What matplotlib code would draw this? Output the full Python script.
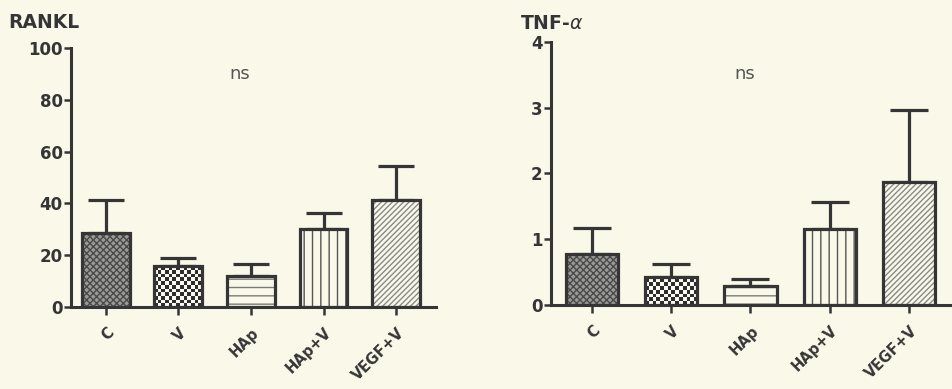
import numpy as np
import matplotlib.pyplot as plt
from matplotlib.colors import ListedColormap
from matplotlib.transforms import ScaledTranslation

groups = ["C", "V", "HAp", "HAp+V", "VEGF+V"]

rankl_mean = [28.6, 15.8, 12.0, 30.0, 41.3]
rankl_err = [12.7, 3.2, 4.6, 6.2, 13.1]

tnf_mean = [0.78, 0.42, 0.29, 1.16, 1.87]
tnf_err = [0.39, 0.20, 0.10, 0.41, 1.10]

BG = "#faf8e8"
INK = "#353535"

plt.rcParams["font.family"] = ["DejaVu Sans"]
plt.rcParams["hatch.linewidth"] = 1.0


def checker_fill(ax, x0, w, h, cell_px=3.7):
    # checkerboard pattern clipped to the bar rectangle
    fig = ax.figure
    fig.canvas.draw()
    p0 = ax.transData.transform((0, 0))
    p1 = ax.transData.transform((1, 1))
    px_x = abs(p1[0] - p0[0])
    px_y = abs(p1[1] - p0[1])
    ncol = max(2, int(round(w * px_x / cell_px)))
    cw = w / ncol
    ch = cw * px_x / px_y
    nrow = int(np.ceil(h / ch))
    board = (np.add.outer(np.arange(nrow), np.arange(ncol)) % 2).astype(float)
    cmap = ListedColormap(["#2e2e2e", "#fbfaf0"])
    im = ax.imshow(board, cmap=cmap, vmin=0, vmax=1, origin="lower",
                   extent=(x0, x0 + w, 0, nrow * ch), aspect="auto",
                   interpolation="nearest", zorder=2)
    rect = plt.Rectangle((x0, 0), w, h, transform=ax.transData)
    im.set_clip_path(rect)


def panel(ax, means, errs, ymax, yticks, title, title_xy, ns_xy, xlim, capsize):
    ax.set_facecolor(BG)
    x = np.arange(len(groups))
    width = 0.66
    ax.set_xlim(*xlim)
    ax.set_ylim(0, ymax)

    styles = [
        dict(facecolor="#9b9b96", hatch="xxxxx", hc="#4a4a4a"),
        None,
        dict(facecolor=BG, hatch="--", hc="#7a7a7a"),
        dict(facecolor=BG, hatch="||", hc="#555555"),
        dict(facecolor=BG, hatch="//////", hc="#8a8a8a"),
    ]
    for i, (m, st) in enumerate(zip(means, styles)):
        if st is None:
            checker_fill(ax, x[i] - width / 2, width, m)
        else:
            ax.bar(x[i], m, width, color=st["facecolor"], hatch=st["hatch"],
                   edgecolor=st["hc"], linewidth=0, zorder=2)
    ax.bar(x, means, width, fill=False, edgecolor=INK, linewidth=2.3, zorder=3)

    ax.errorbar(x, means, yerr=[np.zeros(len(errs)), errs], fmt="none",
                ecolor=INK, elinewidth=2.3, capsize=capsize, capthick=2.3,
                zorder=1)

    for s in ["top", "right"]:
        ax.spines[s].set_visible(False)
    for s in ["left", "bottom"]:
        ax.spines[s].set_linewidth(2.2)
        ax.spines[s].set_color(INK)

    ax.set_yticks(yticks)
    ax.set_xticks(x)
    ax.tick_params(axis="y", length=5, width=1.8, color=INK, labelsize=12,
                   labelcolor=INK, pad=1)
    ax.tick_params(axis="x", length=6, width=1.8, color=INK, labelsize=10.5,
                   labelcolor=INK, pad=7)
    for lab in ax.get_yticklabels():
        lab.set_fontweight("bold")
    ax.set_xticklabels(groups, rotation=45, ha="right", fontweight="bold")
    shift = ScaledTranslation(8 / 72, 0, ax.figure.dpi_scale_trans)
    for lab in ax.get_xticklabels():
        lab.set_transform(lab.get_transform() + shift)

    ax.text(ns_xy[0], ns_xy[1], "ns", fontsize=13, color="#555555",
            ha="center", va="center")
    ax.text(title_xy[0], title_xy[1], title, transform=ax.transAxes,
            fontsize=13.5, fontweight="bold", color=INK, ha="left", va="bottom")


fig = plt.figure(figsize=(9.53, 3.89), dpi=100, facecolor=BG)
ax1 = fig.add_axes([0.0745, 0.2108, 0.383, 0.666])
ax2 = fig.add_axes([0.578, 0.216, 0.419, 0.676])

panel(ax1, rankl_mean, rankl_err, 100, [0, 20, 40, 60, 80, 100], "RANKL",
      (-0.173, 1.06), (1.85, 90), (-0.48, 4.55), 13)
panel(ax2, tnf_mean, tnf_err, 4, [0, 1, 2, 3, 4], "TNF-$\\alpha$",
      (-0.078, 1.035), (1.93, 3.51), (-0.52, 4.52), 14)

fig.savefig("out.png", dpi=100, facecolor=BG)
